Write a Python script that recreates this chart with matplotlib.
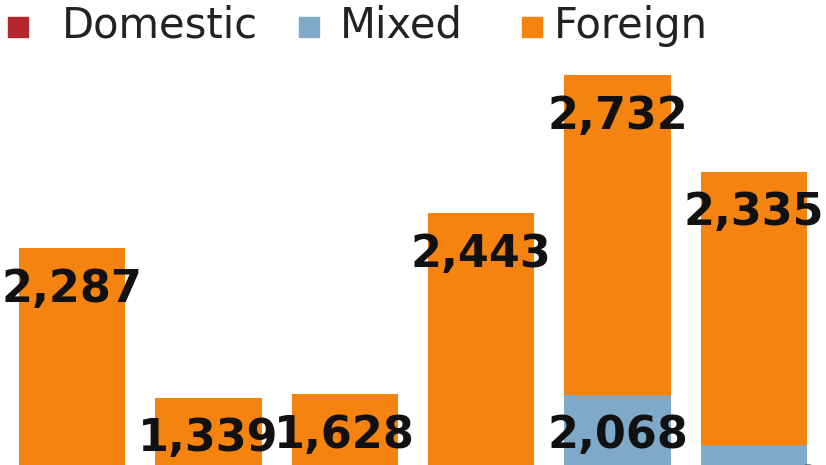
import matplotlib.pyplot as plt
import numpy as np

# Bottom part of the chart is cropped in the reference; hidden values are estimates.
categories = ["A", "B", "C", "D", "E", "F"]
domestic = [700, 600, 500, 800, 540, 1030]
mixed = [873, 644, 483, 918, 2068, 1150]
foreign = [2287, 1339, 1628, 2443, 2732, 2335]

COLORS = {"Domestic": "#b3262c", "Mixed": "#7fa9c9", "Foreign": "#f5830f"}
FONT = ["Liberation Sans Narrow", "DejaVu Sans"]

fig = plt.figure(figsize=(8.26, 4.65), dpi=100)
# axes extends below the figure so that only the top of the bars is visible
ax = fig.add_axes([0, -0.505, 1, 1.505])
x = np.arange(len(categories))
w = 0.78
dom = np.array(domestic)
mix = np.array(mixed)
fgn = np.array(foreign)
ax.bar(x, dom, w, color=COLORS["Domestic"])
ax.bar(x, mix, w, bottom=dom, color=COLORS["Mixed"])
ax.bar(x, fgn, w, bottom=dom + mix, color=COLORS["Foreign"])
ax.set_xlim(-0.528, 5.528)
ax.set_ylim(0, 5983)
ax.axis("off")

for i in range(len(x)):
    top = dom[i] + mix[i] + fgn[i]
    ax.annotate(f"{fgn[i]:,}", (x[i], top), xytext=(0, -14), textcoords="offset points",
                ha="center", va="top", fontsize=32, weight="bold", family=FONT, color="#111111")
    if i >= 4:
        ax.annotate(f"{mix[i]:,}", (x[i], dom[i] + mix[i]), xytext=(0, -14),
                    textcoords="offset points", ha="center", va="top", fontsize=32,
                    weight="bold", family=FONT, color="#111111")

# legend drawn by hand along the top
for sx, tx, name in [(0.010, 0.075, "Domestic"), (0.362, 0.412, "Mixed"), (0.632, 0.670, "Foreign")]:
    fig.patches.append(plt.Rectangle((sx, 0.92), 0.024, 0.043, transform=fig.transFigure,
                                     color=COLORS[name]))
    fig.text(tx, 0.945, name, fontsize=30, family=["DejaVu Sans"], va="center", color="#222222")

fig.savefig("out.png", dpi=100)
